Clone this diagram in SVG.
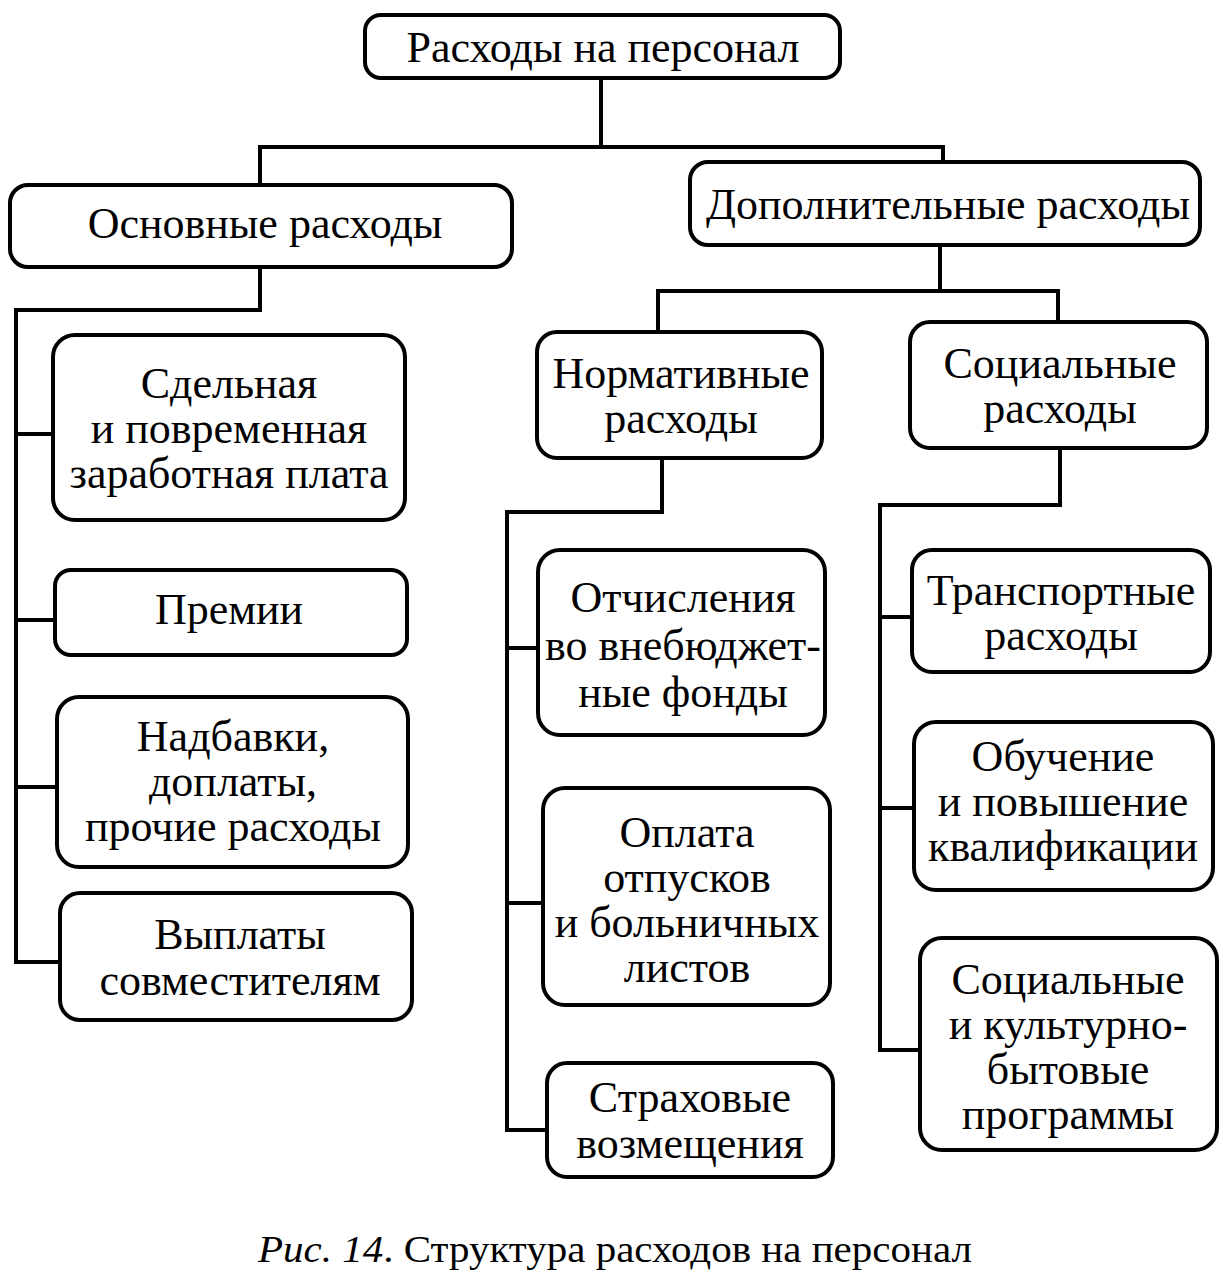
<svg xmlns="http://www.w3.org/2000/svg" width="1223" height="1287" viewBox="0 0 1223 1287">
<style>
.box{fill:#fff;stroke:#000;stroke-width:4}
.ln{fill:none;stroke:#000;stroke-width:4;stroke-linecap:square}
text{font-family:"Liberation Serif","Times New Roman",serif;font-size:44px;fill:#000;text-anchor:middle}
.cap{font-size:38px;text-anchor:start}
</style>
<rect width="1223" height="1287" fill="#fff"/>
<g id="connectors">
<path class="ln" d="M601 78 V146 M260 147 H943 M260 147 V185 M943 147 V162"/>
<path class="ln" d="M260 267 V310 H16 V962 H60 M16 434 H53 M16 620 H55 M16 787 H57"/>
<path class="ln" d="M940 245 V291 M658 291 H1058 M658 291 V332 M1058 291 V322"/>
<path class="ln" d="M662 458 V512 H507 V1130 H547 M507 648 H538 M507 903 H543"/>
<path class="ln" d="M1060 448 V505 H880 V1050 H920 M880 617 H912 M880 808 H914"/>
</g>
<g id="n-root"><rect class="box" x="365" y="15" width="475" height="63" rx="16"/><text x="603" y="62">Расходы на персонал</text></g>
<g id="n-osn"><rect class="box" x="10" y="185" width="502" height="82" rx="18"/><text x="265" y="238">Основные расходы</text></g>
<g id="n-dop"><rect class="box" x="690" y="162" width="510" height="83" rx="18"/><text x="948" y="219">Дополнительные расходы</text></g>
<g id="n-sdel"><rect class="box" x="53" y="335" width="352" height="185" rx="22"/><text x="229" y="398">Сдельная</text><text x="229" y="443">и повременная</text><text x="229" y="488">заработная плата</text></g>
<g id="n-prem"><rect class="box" x="55" y="570" width="352" height="85" rx="16"/><text x="229" y="624">Премии</text></g>
<g id="n-nadb"><rect class="box" x="57" y="697" width="351" height="170" rx="22"/><text x="233" y="751">Надбавки,</text><text x="233" y="796">доплаты,</text><text x="233" y="841">прочие расходы</text></g>
<g id="n-vypl"><rect class="box" x="60" y="893" width="352" height="127" rx="20"/><text x="240" y="949">Выплаты</text><text x="240" y="995">совместителям</text></g>
<g id="n-norm"><rect class="box" x="537" y="332" width="285" height="126" rx="20"/><text x="681" y="388">Нормативные</text><text x="681" y="433">расходы</text></g>
<g id="n-soc"><rect class="box" x="910" y="322" width="297" height="126" rx="20"/><text x="1060" y="378">Социальные</text><text x="1060" y="423">расходы</text></g>
<g id="n-otch"><rect class="box" x="538" y="550" width="287" height="185" rx="22"/><text x="683" y="612">Отчисления</text><text x="683" y="660">во внебюджет-</text><text x="683" y="707">ные фонды</text></g>
<g id="n-opl"><rect class="box" x="543" y="788" width="287" height="217" rx="22"/><text x="687" y="847">Оплата</text><text x="687" y="892">отпусков</text><text x="687" y="937">и больничных</text><text x="687" y="982">листов</text></g>
<g id="n-strah"><rect class="box" x="547" y="1063" width="286" height="114" rx="20"/><text x="690" y="1112">Страховые</text><text x="690" y="1158">возмещения</text></g>
<g id="n-trans"><rect class="box" x="912" y="550" width="298" height="122" rx="20"/><text x="1061" y="605">Транспортные</text><text x="1061" y="650">расходы</text></g>
<g id="n-obuch"><rect class="box" x="914" y="722" width="299" height="168" rx="22"/><text x="1063" y="771">Обучение</text><text x="1063" y="816">и повышение</text><text x="1063" y="861">квалификации</text></g>
<g id="n-socprog"><rect class="box" x="920" y="938" width="297" height="212" rx="22"/><text x="1068" y="994">Социальные</text><text x="1068" y="1039">и культурно-</text><text x="1068" y="1084">бытовые</text><text x="1068" y="1129">программы</text></g>
<text class="cap" x="258" y="1262" textLength="714" lengthAdjust="spacingAndGlyphs"><tspan font-style="italic">Рис. 14</tspan>. Структура расходов на персонал</text>
</svg>
